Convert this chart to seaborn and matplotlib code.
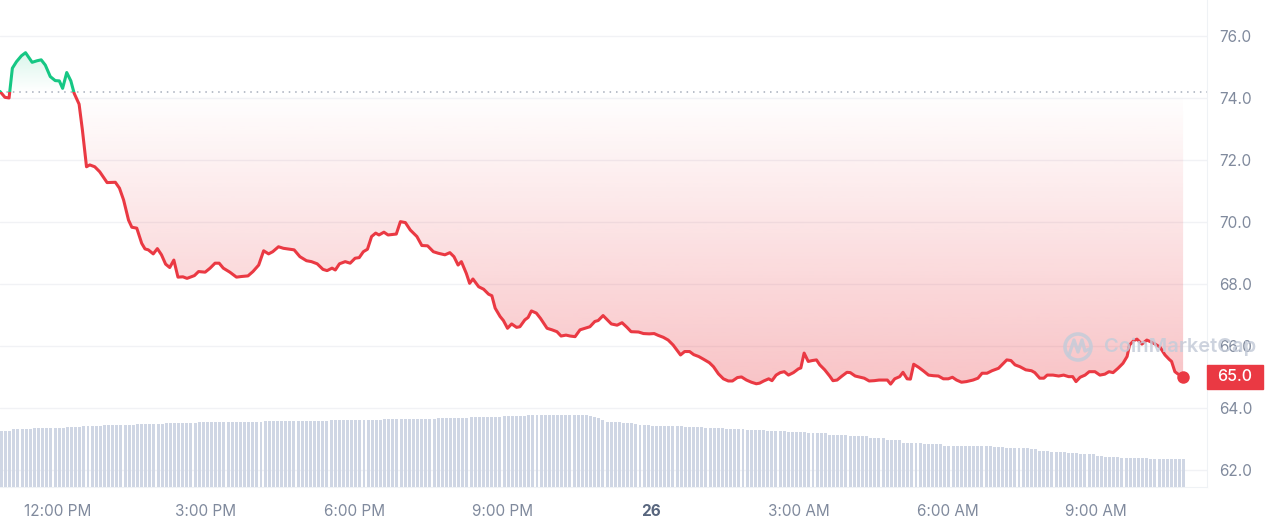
import numpy as np
import pandas as pd
import matplotlib.pyplot as plt
import matplotlib.dates as mdates
import matplotlib.patches as mpatches
import matplotlib.transforms as mtransforms
import matplotlib.colors as mcolors
from matplotlib.path import Path
import seaborn as sns

# data
start = pd.Timestamp('2023-11-25 10:50')
baseline = 74.18

price_min = [0, 6, 11, 15, 20, 26, 31, 39, 45, 50, 55, 61, 67, 72, 76, 81, 86, 90, 96, 100,
             105, 109, 115, 121, 130, 140, 145, 150, 156, 160, 166, 172, 176, 180, 186, 191, 196, 201, 206, 211,
             216, 222, 227, 231, 236, 241, 249, 255, 261, 266, 271, 279, 287, 293, 301, 307, 314, 320, 326, 331,
             338, 344, 352, 357, 364, 372, 378, 385, 392, 397, 403, 407, 412, 419, 425, 431, 436, 441, 446, 451,
             456, 460, 466, 471, 481, 486, 492, 498, 506, 512, 519, 526, 532, 540, 546, 551, 556, 560, 566, 570,
             574, 581, 587, 593, 597, 601, 607, 611, 616, 621, 627, 631, 637, 641, 645, 651, 656, 664, 670, 676,
             681, 687, 692, 698, 704, 710, 716, 722, 726, 732, 736, 742, 749, 755, 761, 766, 775, 781, 788, 794,
             799, 805, 811, 817, 821, 826, 831, 837, 842, 848, 854, 861, 866, 872, 878, 884, 889, 895, 900, 906,
             912, 918, 922, 927, 933, 937, 942, 947, 952, 957, 963, 969, 972, 976, 981, 986, 991, 995, 1001, 1007,
             1011, 1016, 1022, 1028, 1032, 1038, 1044, 1049, 1055, 1061, 1067, 1073, 1077, 1081, 1086, 1092, 1096, 1101, 1105, 1109,
             1115, 1121, 1127, 1133, 1139, 1145, 1151, 1156, 1161, 1167, 1173, 1181, 1187, 1192, 1198, 1204, 1212, 1218, 1222, 1227,
             1232, 1238, 1245, 1252, 1256, 1262, 1267, 1271, 1278, 1285, 1291, 1297, 1302, 1306, 1311, 1317, 1322, 1329, 1335, 1341,
             1346, 1351, 1357, 1363, 1368, 1371, 1376, 1380, 1386, 1392, 1397, 1402, 1408, 1414, 1419, 1422, 1426, 1430, 1436]
price = [74.20, 74.01, 73.99, 74.95, 75.16, 75.35, 75.45, 75.14, 75.19, 75.22, 75.05, 74.68, 74.55, 74.54, 74.30, 74.81, 74.54, 74.14, 73.79, 72.96,
         71.77, 71.83, 71.77, 71.61, 71.26, 71.27, 71.08, 70.70, 70.05, 69.82, 69.79, 69.30, 69.12, 69.09, 68.96, 69.13, 68.93, 68.63, 68.52, 68.76,
         68.21, 68.22, 68.17, 68.21, 68.26, 68.39, 68.37, 68.50, 68.66, 68.66, 68.50, 68.37, 68.21, 68.23, 68.25, 68.39, 68.60, 69.06, 68.96, 69.03,
         69.19, 69.14, 69.11, 69.09, 68.87, 68.74, 68.71, 68.64, 68.46, 68.42, 68.50, 68.44, 68.64, 68.71, 68.66, 68.82, 68.84, 69.03, 69.11, 69.52,
         69.63, 69.57, 69.66, 69.57, 69.60, 70.00, 69.97, 69.73, 69.52, 69.23, 69.22, 69.03, 68.98, 68.93, 69.00, 68.87, 68.60, 68.71, 68.33, 68.01,
         68.15, 67.90, 67.82, 67.66, 67.61, 67.21, 66.94, 66.81, 66.56, 66.70, 66.59, 66.61, 66.83, 66.91, 67.12, 67.05, 66.88, 66.56, 66.51, 66.45,
         66.31, 66.34, 66.31, 66.29, 66.51, 66.56, 66.61, 66.78, 66.81, 66.97, 66.86, 66.70, 66.66, 66.74, 66.59, 66.45, 66.44, 66.39, 66.38, 66.39,
         66.33, 66.27, 66.18, 66.02, 65.88, 65.70, 65.81, 65.81, 65.71, 65.65, 65.56, 65.45, 65.32, 65.09, 64.93, 64.86, 64.86, 64.97, 64.99, 64.89,
         64.82, 64.77, 64.79, 64.86, 64.93, 64.87, 65.05, 65.13, 65.16, 65.05, 65.13, 65.25, 65.28, 65.76, 65.49, 65.52, 65.54, 65.38, 65.22, 65.02,
         64.87, 64.89, 65.02, 65.14, 65.13, 65.02, 64.98, 64.95, 64.86, 64.87, 64.89, 64.89, 64.89, 64.76, 64.93, 65.00, 65.14, 64.93, 64.92, 65.40,
         65.30, 65.18, 65.05, 65.03, 65.02, 64.93, 64.93, 64.98, 64.89, 64.82, 64.84, 64.89, 64.95, 65.11, 65.11, 65.19, 65.27, 65.43, 65.54, 65.52,
         65.38, 65.32, 65.22, 65.19, 65.13, 64.95, 64.95, 65.05, 65.05, 65.02, 65.05, 65.00, 65.00, 64.84, 64.98, 65.05, 65.16, 65.16, 65.05, 65.08,
         65.16, 65.13, 65.27, 65.43, 65.65, 66.02, 66.16, 66.21, 66.05, 66.18, 66.12, 66.05, 65.95, 65.70, 65.56, 65.49, 65.16, 65.08, 65.00]

# 5-minute volume bars, as plateaus (level, number of bars)
vol_level = [56.3, 58, 59.3, 60.3, 61.3, 62.3, 63.3, 64, 65, 66, 67, 68,
             68.5, 69, 70, 71, 72,
             72.3, 71.3, 70, 68.7, 67.3, 65.3, 64.7, 63.7, 62.7, 61.7, 61.3,
             60.8, 60.2, 59.5, 58.5, 57.5, 56.3, 55, 53.7, 52.3, 50.8, 49.3, 47.5,
             43.7, 42.7, 41.3, 40.3, 39.3, 38, 36.3, 35.3, 34.7, 33.7, 32.7, 31.3, 30.3, 29.3, 28]
vol_count = [3, 5, 8, 4, 5, 8, 7, 8, 16, 16, 13, 5,
             8, 8, 8, 6, 4,
             11, 1, 1, 1, 1, 2, 2, 3, 1, 3, 3,
             5, 5, 5, 5, 5, 5, 5, 5, 5, 5, 4, 4,
             5, 5, 12, 3, 6, 2, 3, 2, 2, 3, 4, 2, 4, 7, 9]

y_ticks = [62.0, 64.0, 66.0, 68.0, 70.0, 72.0, 74.0, 76.0]
x_tick_times = ['2023-11-25 12:00', '2023-11-25 15:00', '2023-11-25 18:00', '2023-11-25 21:00',
                '2023-11-26 00:00', '2023-11-26 03:00', '2023-11-26 06:00', '2023-11-26 09:00']
x_tick_labels = ['12:00 PM', '3:00 PM', '6:00 PM', '9:00 PM', '26', '3:00 AM', '6:00 AM', '9:00 AM']

RED = '#ea3943'
GREEN = '#16c784'
GREY = '#808a9d'

sns.set_style('white')
plt.rcParams['font.family'] = ['Inter', 'DejaVu Sans']

df = pd.DataFrame({'time': start + pd.to_timedelta(price_min, unit='min'), 'price': price})
vol = pd.DataFrame({'time': pd.date_range(start, periods=sum(vol_count), freq='5min'),
                    'volume': np.repeat(vol_level, vol_count)})

fig = plt.figure(figsize=(12.65, 5.22), dpi=100)
ax = fig.add_axes([0, 35 / 522, 1207 / 1265, 487 / 522])
ax2 = ax.twinx()

# volume
ax2.bar(vol['time'], vol['volume'], width=pd.Timedelta(minutes=3.6), align='edge',
        color='#cfd6e4', linewidth=0)
ax2.set_ylim(0, max(vol_level) * 6.74)
ax2.set_yticks([])
for s in ax2.spines.values():
    s.set_visible(False)

# price line, green above the open price and red below
sns.lineplot(data=df, x='time', y='price', ax=ax, color=RED, lw=2.2, estimator=None, sort=False, zorder=4)
line_red = ax.lines[-1]
sns.lineplot(data=df, x='time', y='price', ax=ax, color=GREEN, lw=2.2, estimator=None, sort=False, zorder=4)
line_green = ax.lines[-1]
trans = mtransforms.blended_transform_factory(ax.transAxes, ax.transData)
line_green.set_clip_path(mpatches.Rectangle((0, baseline), 1, 20, transform=trans))
line_red.set_clip_path(mpatches.Rectangle((0, baseline - 30), 1, 30, transform=trans))

t = mdates.date2num(df['time'])
p = df['price'].values


def gradient_fill(mask, color, y0, y1, a0, a1):
    poly = ax.fill_between(t, p, baseline, where=mask, interpolate=True, facecolor='none', lw=0)
    path = Path.make_compound_path(*poly.get_paths())
    img = np.zeros((200, 1, 4))
    img[..., :3] = mcolors.to_rgb(color)
    img[:, 0, 3] = np.linspace(a0, a1, 200)
    im = ax.imshow(img, extent=[t[0], t[-1], y0, y1], origin='lower', aspect='auto',
                   interpolation='bilinear', zorder=2)
    im.set_clip_path(path, ax.transData)


gradient_fill(p < baseline, RED, p.min(), baseline, 0.30, 0.0)
gradient_fill(p > baseline, GREEN, baseline, p.max(), 0.0, 0.16)

ax.axhline(baseline, color='#a6adbb', lw=1.1, ls=(0, (1, 3.2)), zorder=3)
ax.plot(t[-1], p[-1], 'o', color=RED, ms=9, mec='none', zorder=5)

ax.set_xlim(start, start + pd.Timedelta(minutes=1465))
ax.set_ylim(61.44, 77.15)
ax.set_xlabel('')
ax.set_ylabel('')

# axes styling
ax.yaxis.tick_right()
ax.set_yticks(y_ticks)
ax.set_yticklabels([f'{v:.1f}' for v in y_ticks])
ax.yaxis.grid(True, color='#f1f2f5', lw=1)
ax.set_axisbelow(True)
ax.tick_params(axis='y', length=0, pad=9, labelsize=11, labelcolor=GREY)
ax.set_xticks(pd.to_datetime(x_tick_times))
ax.set_xticklabels(x_tick_labels)
ax.tick_params(axis='x', length=4, width=1, color='#eff2f5', pad=8, labelsize=11, labelcolor=GREY)
for lab in ax.get_xticklabels():
    if lab.get_text() == '26':
        lab.set_fontweight('bold')
        lab.set_color('#58667e')
for name, s in ax.spines.items():
    s.set_visible(name in ('right', 'bottom'))
    s.set_color('#eff2f5')

# current price tag
ax.add_patch(mpatches.Rectangle((1.0, p[-1] - 0.39), 56 / 1207, 0.78, transform=trans,
                                color=RED, clip_on=False, zorder=6))
ax.text(1.0 + 28 / 1207, p[-1], f'{p[-1]:.1f}', transform=trans, ha='center', va='center',
        color='white', fontsize=11.5, fontweight='medium', zorder=7, clip_on=False)

# watermark
ident = mtransforms.IdentityTransform()
fig.patches.append(mpatches.Circle((1078, 175), 13, transform=ident, fill=False,
                                   ec='#c5ccd9', lw=2.6, alpha=0.85))
fig.lines.append(plt.Line2D([1069, 1074, 1078, 1082, 1085, 1089], [167, 182, 170, 182, 171, 173],
                            transform=ident, color='#c5ccd9', lw=2.4, alpha=0.85))
fig.text(1104 / 1265, 175 / 522, 'CoinMarketCap', ha='left', va='center', fontsize=14.5,
         fontweight='semibold', color='#c5ccd9', alpha=0.85)

plt.savefig('out.png', dpi=100)
